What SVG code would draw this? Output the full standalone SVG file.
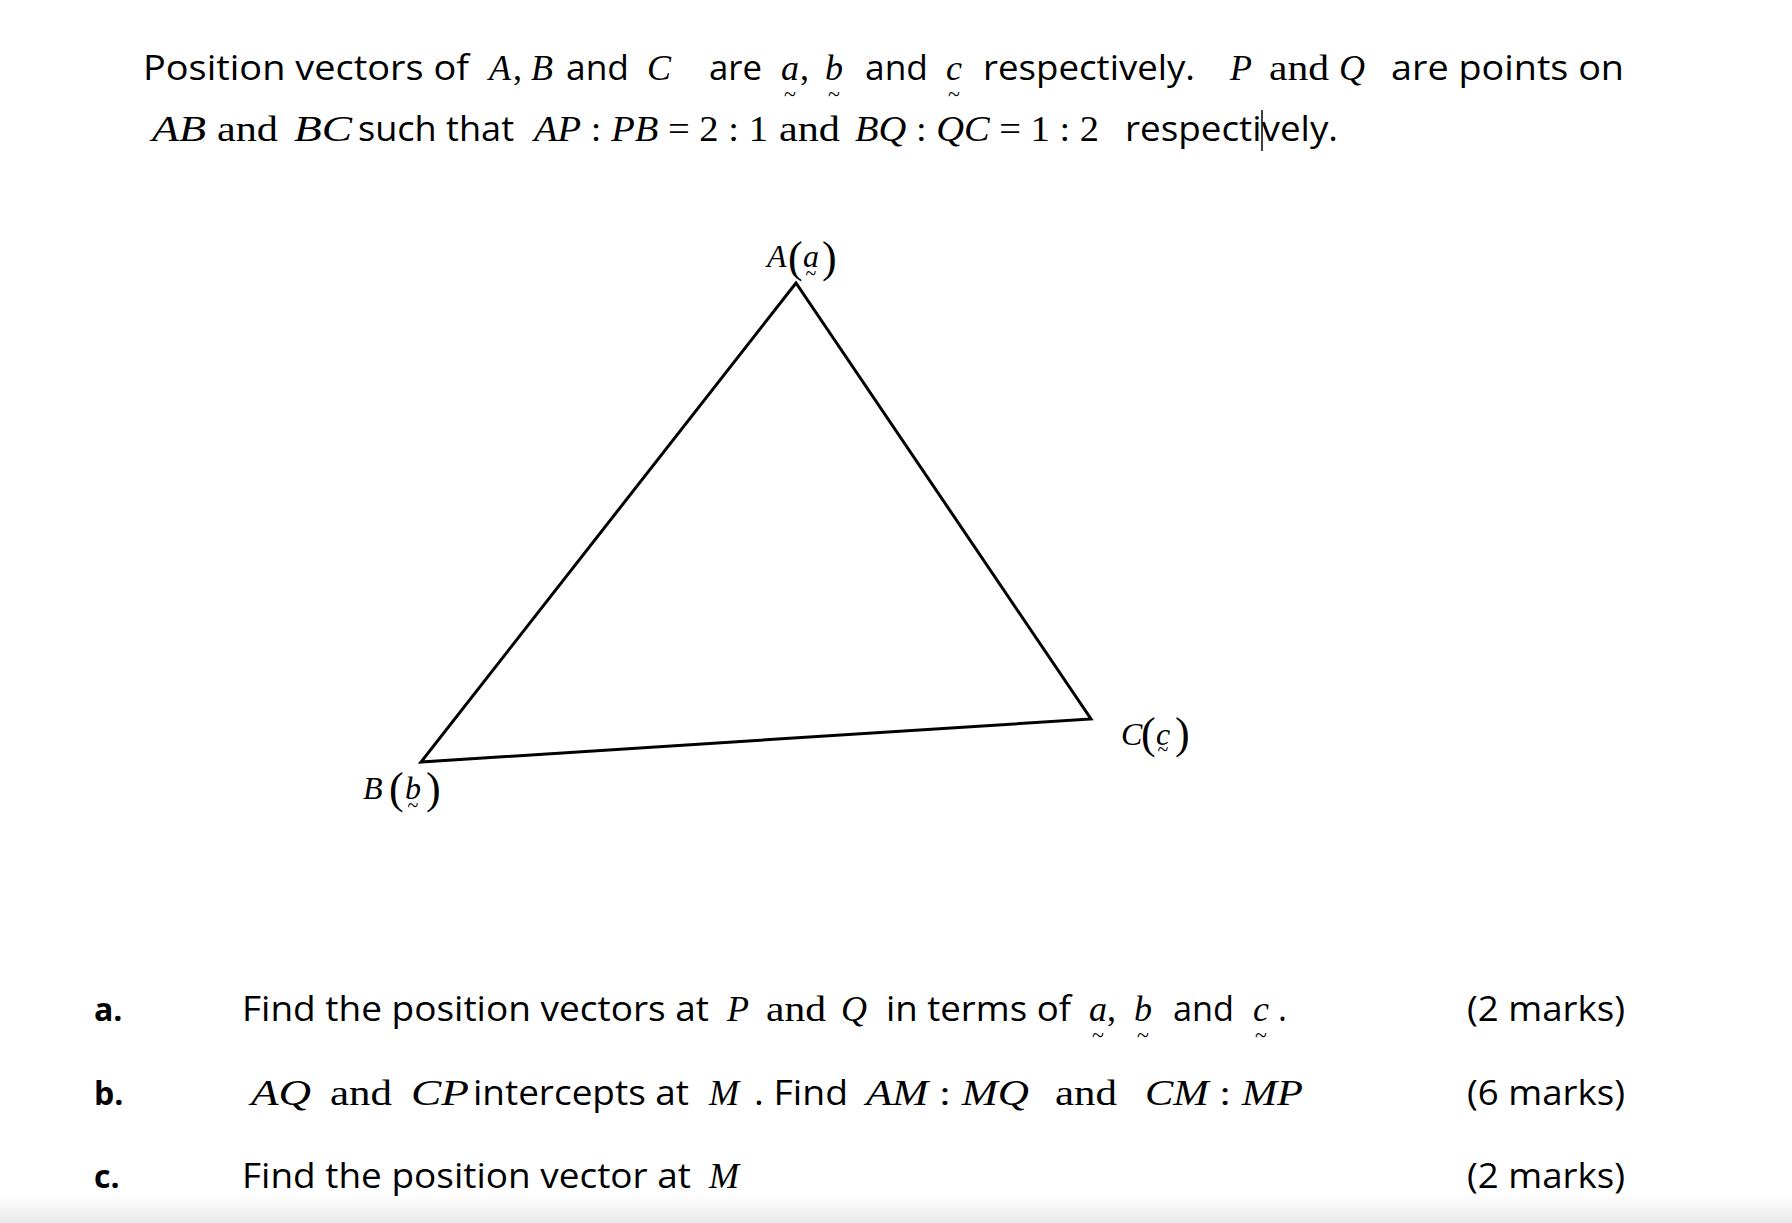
<svg xmlns="http://www.w3.org/2000/svg" width="1792" height="1223" viewBox="0 0 1792 1223">
<defs>
<style>
.s{font-family:"Open Sans","Liberation Sans",sans-serif;font-size:34px;fill:#000}
.sb{font-family:"Open Sans","Liberation Sans",sans-serif;font-size:32px;font-weight:bold;fill:#000}
.m{font-family:"Liberation Serif","Times New Roman",serif;font-size:36px;font-style:italic;fill:#000}
.r{font-family:"Liberation Serif","Times New Roman",serif;font-size:36px;fill:#000}
.i{font-style:italic}
.t{font-family:"Liberation Serif","Times New Roman",serif;font-size:22px;fill:#000;text-anchor:middle}
.lab{font-family:"Liberation Serif","Times New Roman",serif;font-size:32px;fill:#000}
.lm{font-style:italic}
.lp{font-size:44px}
.lt{font-size:20px;text-anchor:middle}
.edge{fill:none;stroke:#000;stroke-width:3;stroke-linejoin:miter}
</style>
<linearGradient id="shade" x1="0" y1="0" x2="0" y2="1">
<stop offset="0" stop-color="#ffffff"/>
<stop offset="1" stop-color="#e9e9e9"/>
</linearGradient>
</defs>
<rect x="0" y="0" width="1792" height="1223" fill="#fff"/>
<rect x="0" y="1194" width="1792" height="29" fill="url(#shade)"/>

<g id="intro">
<text class="s" x="143" y="80" textLength="326" lengthAdjust="spacingAndGlyphs">Position vectors of</text>
<text class="m" x="489" y="80">A</text>
<text class="r" x="513" y="80">,</text>
<text class="m" x="531" y="80">B</text>
<text class="s" x="566" y="80" textLength="63" lengthAdjust="spacingAndGlyphs">and</text>
<text class="m" x="647" y="80">C</text>
<text class="s" x="709" y="80" textLength="53" lengthAdjust="spacingAndGlyphs">are</text>
<text class="m" x="781" y="80">a</text>
<text class="t" x="790" y="101">~</text>
<text class="r" x="800" y="80">,</text>
<text class="m" x="825" y="80">b</text>
<text class="t" x="834" y="101">~</text>
<text class="s" x="865" y="80" textLength="63" lengthAdjust="spacingAndGlyphs">and</text>
<text class="m" x="946" y="80">c</text>
<text class="t" x="954" y="101">~</text>
<text class="s" x="983" y="80" textLength="212" lengthAdjust="spacingAndGlyphs">respectively.</text>
<text class="m" x="1230" y="80">P</text>
<text class="r" x="1269" y="80" textLength="60" lengthAdjust="spacingAndGlyphs">and</text>
<text class="m" x="1339" y="80">Q</text>
<text class="s" x="1391" y="80" textLength="233" lengthAdjust="spacingAndGlyphs">are points on</text>

<text class="m" x="152" y="141" textLength="54" lengthAdjust="spacingAndGlyphs">AB</text>
<text class="r" x="217" y="141" textLength="61" lengthAdjust="spacingAndGlyphs">and</text>
<text class="m" x="294" y="141" textLength="58" lengthAdjust="spacingAndGlyphs">BC</text>
<text class="s" x="358" y="141" textLength="156" lengthAdjust="spacingAndGlyphs">such that</text>
<text class="r" x="534" y="141" textLength="234" lengthAdjust="spacingAndGlyphs"><tspan class="i">AP</tspan> : <tspan class="i">PB</tspan> = 2 : 1</text>
<text class="r" x="779" y="141" textLength="61" lengthAdjust="spacingAndGlyphs">and</text>
<text class="r" x="855" y="141" textLength="244" lengthAdjust="spacingAndGlyphs"><tspan class="i">BQ</tspan> : <tspan class="i">QC</tspan> = 1 : 2</text>
<text class="s" x="1125" y="141" textLength="213" lengthAdjust="spacingAndGlyphs">respectively.</text>
<line x1="1262" y1="110" x2="1262" y2="151" stroke="#000" stroke-width="1.5"/>
</g>

<g id="triangle">
<path class="edge" d="M796,283 L421,762 L1091,719 Z"/>
</g>

<g id="label-A">
<text class="lab"><tspan class="lm" x="767" y="267">A</tspan><tspan class="lp" x="788" y="272">(</tspan><tspan class="lm" x="803" y="267">a</tspan><tspan class="lt" x="811" y="280">~</tspan><tspan class="lp" x="822" y="272">)</tspan></text>
</g>
<g id="label-C">
<text class="lab"><tspan class="lm" x="1121" y="745">C</tspan><tspan class="lp" x="1141" y="748">(</tspan><tspan class="lm" x="1156" y="745">c</tspan><tspan class="lt" x="1163" y="756">~</tspan><tspan class="lp" x="1175" y="748">)</tspan></text>
</g>
<g id="label-B">
<text class="lab"><tspan class="lm" x="363" y="799">B</tspan><tspan class="lp" x="389" y="803">(</tspan><tspan class="lm" x="405" y="799">b</tspan><tspan class="lt" x="413" y="812">~</tspan><tspan class="lp" x="426" y="803">)</tspan></text>
</g>

<g id="question-a">
<text class="sb" x="94" y="1021">a.</text>
<text class="s" x="242" y="1021" textLength="467" lengthAdjust="spacingAndGlyphs">Find the position vectors at</text>
<text class="m" x="727" y="1021">P</text>
<text class="r" x="766" y="1021" textLength="60" lengthAdjust="spacingAndGlyphs">and</text>
<text class="m" x="841" y="1021">Q</text>
<text class="s" x="886" y="1021" textLength="185" lengthAdjust="spacingAndGlyphs">in terms of</text>
<text class="m" x="1089" y="1021">a</text>
<text class="t" x="1098" y="1042">~</text>
<text class="r" x="1107" y="1021">,</text>
<text class="m" x="1134" y="1021">b</text>
<text class="t" x="1143" y="1042">~</text>
<text class="s" x="1173" y="1021" textLength="61" lengthAdjust="spacingAndGlyphs">and</text>
<text class="m" x="1253" y="1021">c</text>
<text class="t" x="1261" y="1042">~</text>
<text class="s" x="1278" y="1021">.</text>
<text class="s" x="1467" y="1021" textLength="158" lengthAdjust="spacingAndGlyphs">(2 marks)</text>
</g>

<g id="question-b">
<text class="sb" x="94" y="1105">b.</text>
<text class="m" x="251" y="1105" textLength="60" lengthAdjust="spacingAndGlyphs">AQ</text>
<text class="r" x="330" y="1105" textLength="62" lengthAdjust="spacingAndGlyphs">and</text>
<text class="m" x="411" y="1105" textLength="58" lengthAdjust="spacingAndGlyphs">CP</text>
<text class="s" x="473" y="1105" textLength="216" lengthAdjust="spacingAndGlyphs">intercepts at</text>
<text class="m" x="709" y="1105">M</text>
<text class="s" x="754" y="1105" textLength="94" lengthAdjust="spacingAndGlyphs">. Find</text>
<text class="r" x="866" y="1105" textLength="163" lengthAdjust="spacingAndGlyphs"><tspan class="i">AM</tspan> : <tspan class="i">MQ</tspan></text>
<text class="r" x="1055" y="1105" textLength="62" lengthAdjust="spacingAndGlyphs">and</text>
<text class="r" x="1145" y="1105" textLength="158" lengthAdjust="spacingAndGlyphs"><tspan class="i">CM</tspan> : <tspan class="i">MP</tspan></text>
<text class="s" x="1467" y="1105" textLength="158" lengthAdjust="spacingAndGlyphs">(6 marks)</text>
</g>

<g id="question-c">
<text class="sb" x="94" y="1188">c.</text>
<text class="s" x="242" y="1188" textLength="449" lengthAdjust="spacingAndGlyphs">Find the position vector at</text>
<text class="m" x="709" y="1188">M</text>
<text class="s" x="1467" y="1188" textLength="158" lengthAdjust="spacingAndGlyphs">(2 marks)</text>
</g>
</svg>
